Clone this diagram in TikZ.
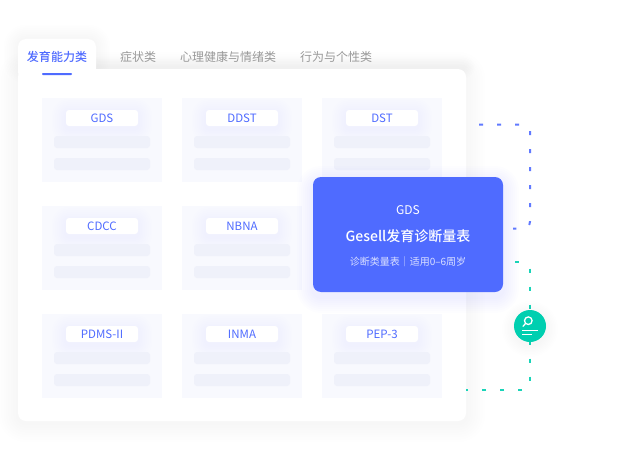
\documentclass[tikz,border=0pt]{standalone}
\usepackage{fontspec}
\setmainfont{Noto Sans CJK SC}
\newfontfamily\medfont{Noto Sans CJK SC Medium}
\definecolor{brand}{HTML}{4F6BFF}
\definecolor{teal}{HTML}{00CFB0}
\definecolor{panelbg}{HTML}{F8F9FE}
\definecolor{barbg}{HTML}{EFF1FA}
\definecolor{tabgray}{HTML}{999999}
\newcommand{\softshadow}[9]{%
  % x1 y1 x2 y2 radius dy colour spread opacity
  \foreach \sI in {1,...,8}{
    \pgfmathsetmacro{\sE}{\sI*#8}
    \fill[#7,opacity=#9,rounded corners={#5+\sE}] ({#1-\sE},{#2-\sE+#6}) rectangle ({#3+\sE},{#4+\sE+#6});
  }}
\tikzset{
  every node/.style={inner sep=0pt,outer sep=0pt},
  panel/.style={fill=panelbg,minimum width=120pt,minimum height=84pt},
  chip/.style={fill=white,rounded corners=3pt,minimum width=72pt,minimum height=16pt,text=brand,font=\fontsize{11.5}{11.5}\selectfont},
  bar/.style={fill=barbg,rounded corners=3pt,minimum width=96pt,minimum height=12pt},
  tabtext/.style={text=tabgray,font=\fontsize{12}{12}\selectfont},
  bluelink/.style={draw=brand!90,line width=2pt,dash pattern=on 4pt off 14pt on 4pt off 14pt on 4pt off 17.5pt on 4pt off 14pt on 4pt off 14pt on 4pt off 14pt on 4pt off 14pt on 4pt off 14pt on 4pt off 14pt on 4pt off 14pt on 4pt off 100pt},
  greenlink/.style={draw=teal!90,line width=2pt,dash pattern=on 4pt off 17.5pt on 4pt off 14pt on 4pt off 14pt on 4pt off 14pt on 4pt off 14pt on 4pt off 14pt on 4pt off 14pt on 4pt off 17.5pt on 4pt off 14pt on 4pt off 14pt on 4pt off 14pt on 2pt off 100pt},
}
\begin{document}
\begin{tikzpicture}[x=1pt,y=-1pt]
\useasboundingbox (0,0) rectangle (618,460);
\fill[white] (0,0) rectangle (618,460);
% card shadow
\softshadow{18}{69}{466}{421}{8}{2}{black}{2.4}{.0035}
\softshadow{18}{39}{96}{69}{8}{0}{black}{1.8}{.0035}
\softshadow{96}{69}{466}{72}{3}{-3}{black}{1.2}{.003}
% tab + card
\fill[white,rounded corners=8pt] (18,39) rectangle (96,80);
\node[fill=white,rounded corners=8pt,minimum width=448pt,minimum height=352pt] (card) at (242,245) {};
% tabs
\node[text=brand,font=\medfont\fontsize{12}{12}\selectfont] (tab1) at (57,57) {发育能力类};
\node[tabtext] (tab2) at (138,57) {症状类};
\node[tabtext] (tab3) at (228,57) {心理健康与情绪类};
\node[tabtext] (tab4) at (336,57) {行为与个性类};
\node[fill=brand,rounded corners=.8pt,minimum width=30pt,minimum height=2pt] (tabline) at (57,74) {};
% panels
\foreach \nm/\cx/\cy/\lab in {a/102/140/GDS,b/242/140/DDST,c/382/140/DST,d/102/248/CDCC,e/242/248/NBNA,g/102/356/PDMS-II,h/242/356/INMA,i/382/356/PEP-3}{
  \node[panel] (panel\nm) at (\cx,\cy) {};
  \softshadow{\cx-36}{\cy-30}{\cx+36}{\cy-14}{3}{3}{brand}{1.8}{.004}
  \node[chip] (chip\nm) at (\cx,\cy-22) {\lab};
  \node[bar] (bartop\nm) at (\cx,\cy+2) {};
  \node[bar] (barbot\nm) at (\cx,\cy+24) {};
}
% connectors
\coordinate (blueS) at (479,124.5);
\coordinate (blueC) at (530,124.5);
\coordinate (blueD) at (530,228.5);
\coordinate (blueE) at (513,228.5);
\draw[bluelink] (blueS) -- (blueC) [rounded corners=7pt] -- (blueD) -- (blueE);
\coordinate (greenS) at (515,262);
\coordinate (greenC) at (530,262);
\coordinate (greenD) at (530,390);
\coordinate (greenE) at (466,390);
\draw[greenlink] (greenS) -- (greenC) -- (greenD) -- (greenE);
% popup
\softshadow{313}{177}{503}{292}{8}{5}{brand}{2}{.007}
\node[fill=brand,rounded corners=8pt,minimum width=190pt,minimum height=115pt] (popup) at (408,234.5) {};
\node[text=white,font=\fontsize{12}{12}\selectfont] (popA) at (408,210) {GDS};
\node[text=white,font=\medfont\fontsize{14}{14}\selectfont] (popB) at (408,236) {Gesell发育诊断量表};
\node[text=white,opacity=.8,font=\fontsize{10}{10}\selectfont] (popC) at (408,262) {诊断类量表｜适用0–6周岁};
% search badge
\foreach \sI in {1,...,8}{\fill[teal,opacity=.005] (530,329) circle ({16+\sI*1.5});}
\node[circle,fill=teal,minimum size=32pt] (badge) at (530,326) {};
\draw[white,line width=1.3pt] (528.3,320.7) circle (3.8);
\draw[white,line width=1.3pt,line cap=round] (525.6,323.4) -- (523,326.3);
\draw[white,line width=1.3pt] (522,330.7) -- (538,330.7);
\draw[white,line width=1.3pt] (522,334.7) -- (531.5,334.7);
\end{tikzpicture}
\end{document}
